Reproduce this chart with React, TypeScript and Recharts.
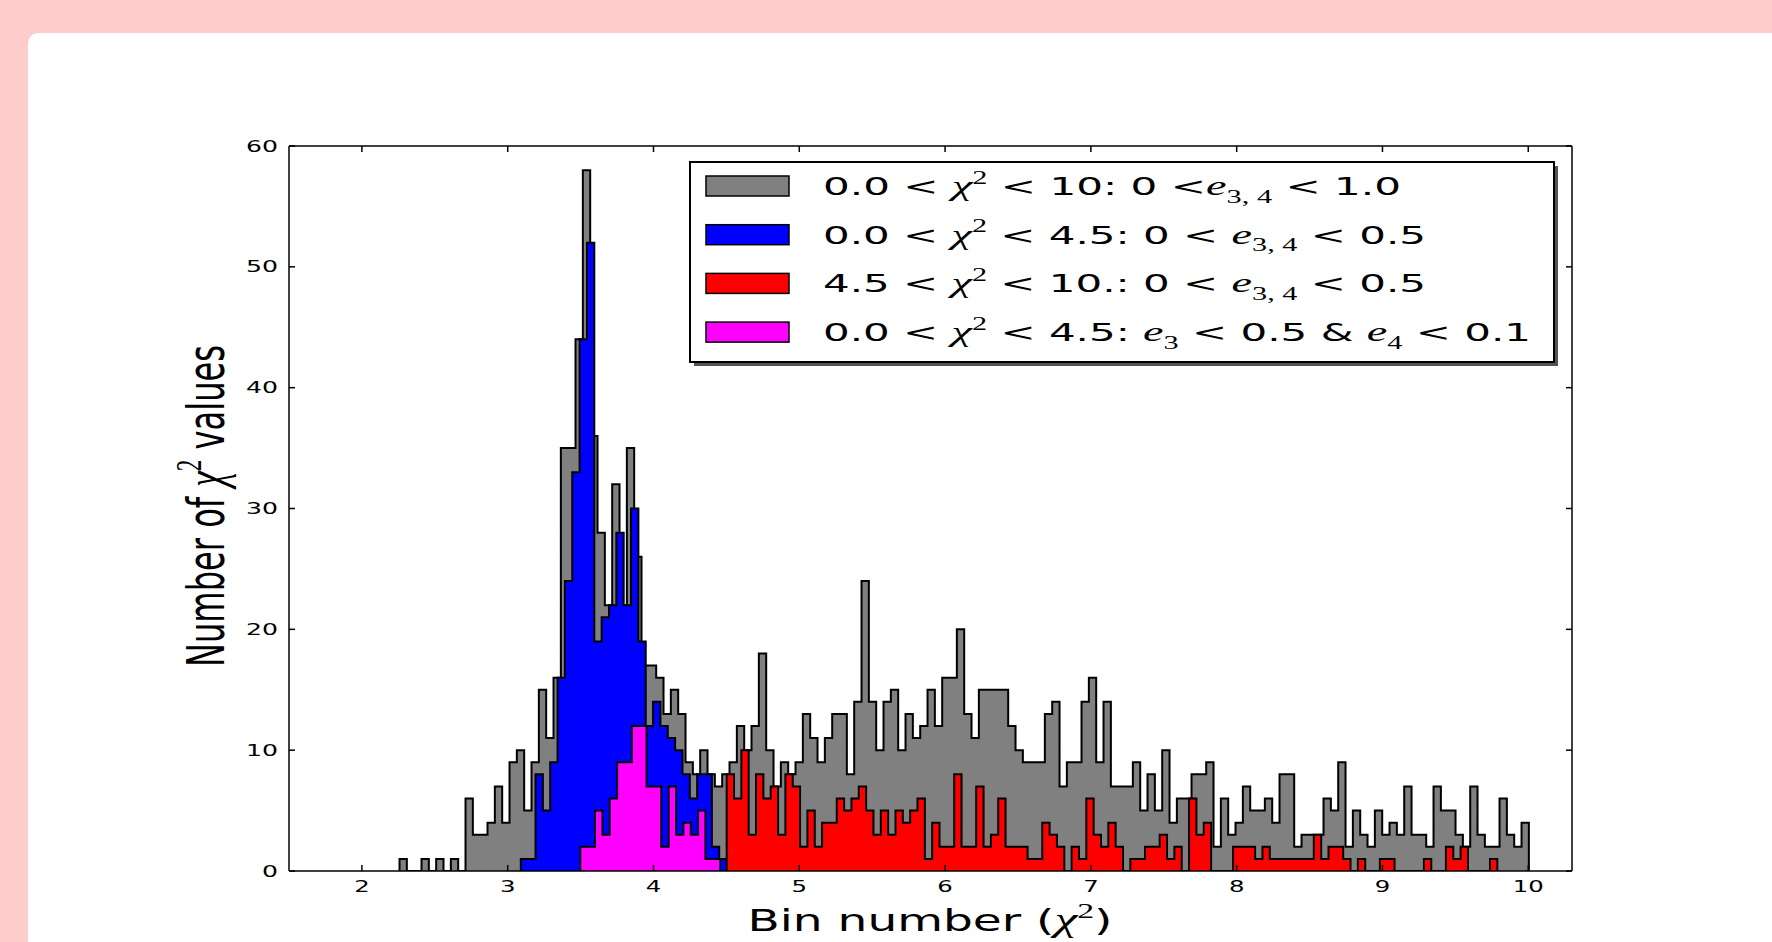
import React from 'react';
import { ComposedChart, Area, XAxis, YAxis, Legend } from 'recharts';

const W = 1772;
const H = 942;

// bin start, bin width and counts for each histogram
const grayStart = 2.258;
const grayWidth = 0.0503;
const grayCounts = [
  1, 0, 0, 1, 0, 1, 0, 1, 0,
  6, 3, 3, 4, 7, 4, 9, 10, 5, 9, 15, 11, 16,
  35, 35, 44, 58, 36, 28, 22, 32, 22, 35, 26, 17, 17, 16, 13, 15, 13, 9, 8, 10, 8, 7, 8,
  9, 12, 10, 12, 18, 10, 7, 9, 8, 9, 13, 11, 9, 11, 13, 13, 8, 14,
  24, 14, 10, 14, 15, 10, 13, 11, 12, 15, 12, 16, 16, 20, 13, 11, 15, 15, 15, 15, 12, 10,
  9, 9, 9, 13, 14, 7, 9, 9, 14, 16, 9, 14, 7, 7, 7, 9, 5, 8, 5, 10, 4, 6,
  6, 8, 8, 9, 2, 6, 3, 4, 7, 5, 5, 6, 4, 8, 8, 2, 3, 3, 3, 6, 5,
  9, 2, 5, 3, 2, 5, 3, 4, 3, 7, 3, 3, 2, 7, 5, 5, 3, 2, 7, 3, 2, 2, 6, 3, 2, 4,
];

const blueStart = 3.09;
const blueWidth = 0.0504;
const blueCounts = [1, 1, 8, 5, 9, 16, 24, 33, 44, 52, 19, 21, 22, 28, 22, 30, 19, 12, 14, 12, 11, 10, 8, 6, 8, 8, 2, 1];

const redStart = 4.502;
const redWidth = 0.05034;
const redCounts = [
  8, 6, 10, 3, 8, 6, 7, 3, 8, 7, 2, 5, 2, 4, 4, 6, 5, 6,
  7, 5, 3, 5, 3, 5, 4, 5, 6, 1, 4, 2, 2, 8, 2, 2, 7, 2, 3, 6, 2, 2,
  2, 1, 1, 4, 3, 2, 0, 2, 1, 6, 3, 2, 4, 2, 0, 1, 1, 2, 2, 3, 1, 2,
  0, 6, 3, 4, 0, 0, 0, 2, 2, 2, 1, 2, 1, 1, 1, 1, 1, 1,
  3, 1, 2, 2, 1, 0, 1, 0, 0, 1, 1, 0, 0, 0, 0, 1, 0, 0, 2, 1, 2, 0, 0, 0, 1,
];

const magentaStart = 3.498;
const magentaWidth = 0.0505;
const magentaCounts = [2, 2, 5, 3, 6, 9, 9, 12, 12, 7, 7, 2, 7, 3, 4, 3, 5, 1, 1];

const xTicks = [2, 3, 4, 5, 6, 7, 8, 9, 10];
const yTicks = [0, 10, 20, 30, 40, 50, 60];

// legend text pieces: m = math italic, sup / sub = raised / lowered
const legendRows = [
  [{ t: '0.0 < ' }, { t: 'χ', m: true }, { t: '2', sup: true }, { t: ' < 10: 0 <' }, { t: 'e', m: true }, { t: '3, 4', sub: true }, { t: ' < 1.0' }],
  [{ t: '0.0 < ' }, { t: 'χ', m: true }, { t: '2', sup: true }, { t: ' < 4.5: 0 < ' }, { t: 'e', m: true }, { t: '3, 4', sub: true }, { t: ' < 0.5' }],
  [{ t: '4.5 < ' }, { t: 'χ', m: true }, { t: '2', sup: true }, { t: ' < 10.: 0 < ' }, { t: 'e', m: true }, { t: '3, 4', sub: true }, { t: ' < 0.5' }],
  [{ t: '0.0 < ' }, { t: 'χ', m: true }, { t: '2', sup: true }, { t: ' < 4.5: ' }, { t: 'e', m: true }, { t: '3', sub: true }, { t: ' < 0.5 & ' }, { t: 'e', m: true }, { t: '4', sub: true }, { t: ' < 0.1' }],
];
const legendWidths = [578, 603, 603, 708];

function stepPoints(start: number, width: number, counts: number[]) {
  const pts = [{ x: start, y: 0 }];
  counts.forEach((c, i) => pts.push({ x: start + i * width, y: c }));
  const end = start + counts.length * width;
  pts.push({ x: end, y: counts[counts.length - 1] });
  pts.push({ x: end, y: 0 });
  return pts;
}

const series = [
  { key: 'gray', fill: '#808080', data: stepPoints(grayStart, grayWidth, grayCounts) },
  { key: 'blue', fill: '#0000ff', data: stepPoints(blueStart, blueWidth, blueCounts) },
  { key: 'red', fill: '#ff0000', data: stepPoints(redStart, redWidth, redCounts) },
  { key: 'magenta', fill: '#ff00ff', data: stepPoints(magentaStart, magentaWidth, magentaCounts) },
];

const font = 'DejaVu Sans, sans-serif';
const mathFont = 'Liberation Serif, serif';

function MathRun({ parts, size }: { parts: any[]; size: number }) {
  let shift = 0;
  return (
    <>
      {parts.map((p, i) => {
        let target = 0;
        if (p.sup) target = -size * 0.45;
        if (p.sub) target = size * 0.3;
        const dy = target - shift;
        shift = target;
        const small = p.sup || p.sub;
        return (
          <tspan
            key={i}
            dy={dy}
            fontFamily={p.m || small ? mathFont : font}
            fontStyle={p.m ? 'italic' : 'normal'}
            fontSize={small ? size * 0.72 : p.m ? size * 1.1 : size}
          >
            {p.t.replace(/ /g, '\u00a0')}
          </tspan>
        );
      })}
    </>
  );
}

const BottomTick = ({ x, y, payload }: any) => {
  const s = String(payload.value);
  return (
    <g>
      <line x1={x} y1={y} x2={x} y2={y - 6} stroke="#000" strokeWidth={1.5} />
      <text x={x} y={y + 21} textAnchor="middle" fontFamily={font} fontSize={15} textLength={s.length * 15.5} lengthAdjust="spacingAndGlyphs">{s}</text>
    </g>
  );
};

const TopTick = ({ x, y }: any) => <line x1={x} y1={y} x2={x} y2={y + 6} stroke="#000" strokeWidth={1.5} />;

const LeftTick = ({ x, y, payload }: any) => {
  const s = String(payload.value);
  return (
    <g>
      <line x1={x} y1={y} x2={x + 6} y2={y} stroke="#000" strokeWidth={1.5} />
      <text x={x - 11} y={y + 5.5} textAnchor="end" fontFamily={font} fontSize={15} textLength={s.length * 16} lengthAdjust="spacingAndGlyphs">{s}</text>
    </g>
  );
};

const RightTick = ({ x, y }: any) => <line x1={x} y1={y} x2={x - 6} y2={y} stroke="#000" strokeWidth={1.5} />;

const LegendBox = () => (
  <svg width={890} height={220} style={{ overflow: 'visible' }}>
    <rect x={14} y={11} width={864} height={200} fill="#555" />
    <rect x={10} y={7} width={864} height={200} fill="#fff" stroke="#000" strokeWidth={2} />
    {series.map((s, i) => {
      const cy = 31 + i * 48.7;
      return (
        <g key={s.key}>
          <rect x={26} y={cy - 10} width={83} height={20} fill={s.fill} stroke="#000" strokeWidth={1.5} />
          <text x={143} y={cy + 9} fontFamily={font} fontSize={25} textLength={legendWidths[i]} lengthAdjust="spacingAndGlyphs">
            <MathRun parts={legendRows[i]} size={25} />
          </text>
        </g>
      );
    })}
  </svg>
);

export default function App() {
  return (
    <div style={{ position: 'absolute', left: 0, top: 0, width: W, height: H, background: '#ffcccc', overflow: 'hidden' }}>
      <div style={{ position: 'absolute', left: 28, top: 33, right: -20, bottom: -20, background: '#fff', borderRadius: 10 }} />
      <div style={{ position: 'absolute', left: 0, top: 0 }}>
        <ComposedChart width={W} height={H} margin={{ top: 126, right: 180, bottom: 41, left: 229 }}>
          <XAxis dataKey="x" type="number" domain={[1.5, 10.3]} ticks={xTicks} allowDataOverflow
            height={30} tickSize={0} tickMargin={0} tick={BottomTick} tickLine={false} axisLine={{ stroke: '#000', strokeWidth: 1.5 }} />
          <XAxis xAxisId="top" orientation="top" dataKey="x" type="number" domain={[1.5, 10.3]} ticks={xTicks} allowDataOverflow
            height={20} tickSize={0} tickMargin={0} tick={TopTick} tickLine={false} axisLine={{ stroke: '#000', strokeWidth: 1.5 }} />
          <YAxis type="number" domain={[0, 60]} ticks={yTicks} allowDataOverflow
            width={60} tickSize={0} tickMargin={0} tick={LeftTick} tickLine={false} axisLine={{ stroke: '#000', strokeWidth: 1.5 }} />
          <YAxis yAxisId="right" orientation="right" type="number" domain={[0, 60]} ticks={yTicks} allowDataOverflow
            width={20} tickSize={0} tickMargin={0} tick={RightTick} tickLine={false} axisLine={{ stroke: '#000', strokeWidth: 1.5 }} />
          {series.map((s) => (
            <Area key={s.key} data={s.data} dataKey="y" type="stepAfter" fill={s.fill} fillOpacity={1}
              stroke="#000" strokeWidth={2} strokeLinejoin="miter" dot={false} activeDot={false}
              isAnimationActive={false} legendType="none" />
          ))}
          <Legend layout="horizontal" align="center" verticalAlign="middle" content={LegendBox}
            wrapperStyle={{ left: 680, top: 155, width: 890, height: 220 }} />
          <text x={930} y={931} textAnchor="middle" fontFamily={font} fontSize={30} textLength={365} lengthAdjust="spacingAndGlyphs">
            <MathRun parts={[{ t: 'Bin number (' }, { t: 'χ', m: true }, { t: '2', sup: true }, { t: ')' }]} size={30} />
          </text>
          <text transform="translate(224,506) scale(1.7,1) rotate(-90)" textAnchor="middle" fontFamily={font} fontSize={30} textLength={322} lengthAdjust="spacingAndGlyphs">
            <MathRun parts={[{ t: 'Number of ' }, { t: 'χ', m: true }, { t: '2', sup: true }, { t: ' values' }]} size={30} />
          </text>
        </ComposedChart>
      </div>
    </div>
  );
}
